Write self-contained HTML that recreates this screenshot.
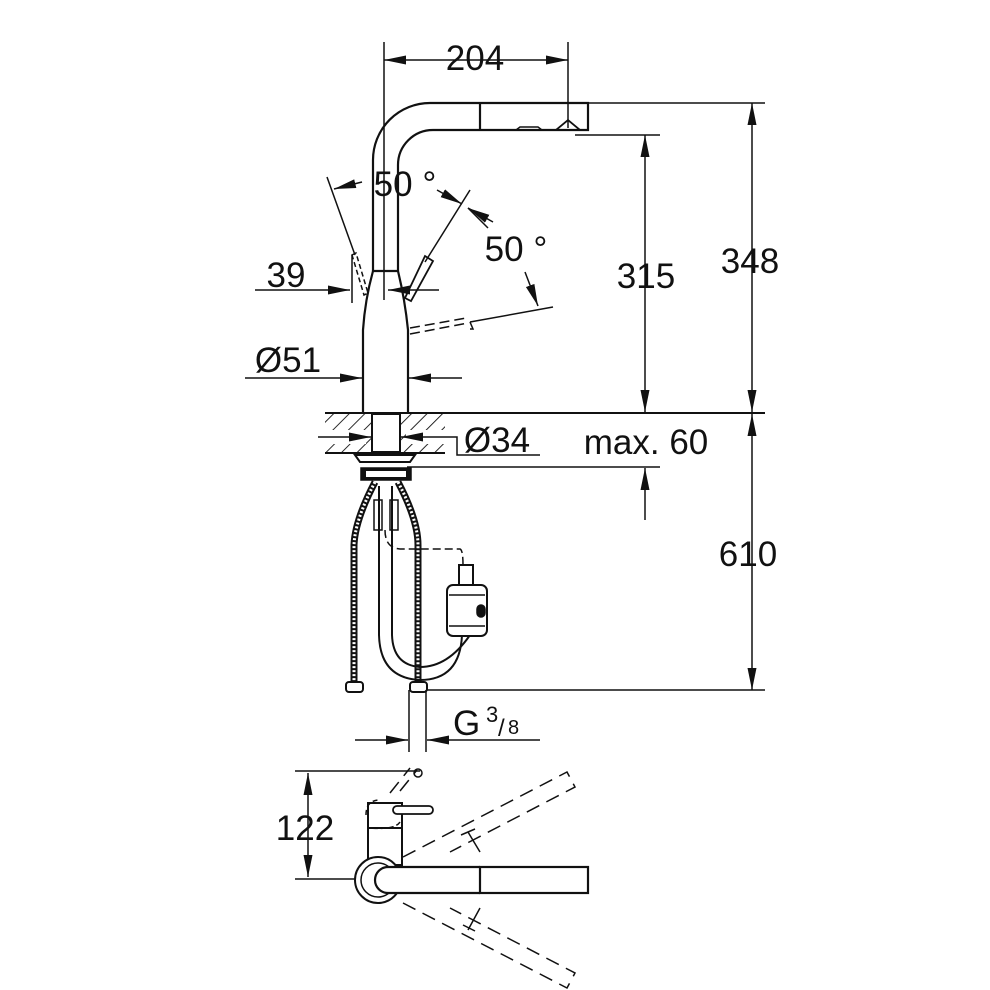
<!DOCTYPE html>
<html><head><style>body{margin:0;background:#fff}svg{display:block}text{font-family:"Liberation Sans",sans-serif;fill:#111}</style></head><body>
<svg width="990" height="990" viewBox="0 0 990 990" xmlns="http://www.w3.org/2000/svg">
<defs>
<marker id="a" viewBox="0 0 10 10" refX="10" refY="5" markerWidth="22" markerHeight="9" markerUnits="userSpaceOnUse" orient="auto-start-reverse" preserveAspectRatio="none"><path d="M0,0L10,5L0,10z" fill="#111"/></marker>
<pattern id="h" width="11" height="11" patternUnits="userSpaceOnUse" patternTransform="rotate(45)"><line x1="0" y1="0" x2="0" y2="11" stroke="#111" stroke-width="1.8"/></pattern>
</defs>
<g stroke="#111" fill="none" stroke-width="1.5">
<line x1="384" y1="42" x2="384" y2="300"/>
<line x1="568" y1="42" x2="568" y2="128"/>
<line x1="384" y1="60" x2="568" y2="60" marker-start="url(#a)" marker-end="url(#a)"/>
<path d="M373,271 L373,160 A57,57 0 0 1 430,103 L588,103 L588,130 L556,130" stroke-width="2.2"/>
<path d="M398,271 L398,165 A35,35 0 0 1 433,130 L556,130" stroke-width="2.2"/>
<line x1="480" y1="103" x2="480" y2="130" stroke-width="2.2"/>
<path d="M516,130 l4,-3 h18 l4,3z" stroke-width="1.5"/>
<path d="M556,130 l12,-10 l12,10z" stroke-width="1.8"/>
<path d="M373,271 L398,271 M373,271 Q365,300 363,330 L363,413 M398,271 Q405,300 408,330 L408,413" stroke-width="2.2"/>
<line x1="327" y1="177" x2="355" y2="255"/>
<path d="M352,255 l4,-2 l12,40 l-4,2z" stroke-dasharray="5,3"/>
<line x1="470" y1="190" x2="425" y2="262"/>
<path d="M425,256 l8,5 l-22,40 l-6,-3z" stroke-width="1.8"/>
<line x1="362" y1="182" x2="334" y2="189" marker-end="url(#a)"/>
<line x1="437" y1="190" x2="462" y2="204" marker-end="url(#a)"/>
<line x1="493" y1="222" x2="468" y2="208" marker-end="url(#a)"/>
<line x1="468" y1="208" x2="488" y2="228"/>
<line x1="525" y1="272" x2="538" y2="306" marker-end="url(#a)"/>
<line x1="470" y1="322" x2="553" y2="307"/>
<path d="M470,322 l3,7 h-3" />
<line x1="410" y1="334" x2="468" y2="323" stroke-dasharray="10,5"/>
<line x1="410" y1="328" x2="466" y2="318" stroke-dasharray="10,5"/>
<line x1="352" y1="255" x2="352" y2="303"/>
<line x1="255" y1="290" x2="350" y2="290" marker-end="url(#a)"/>
<line x1="439" y1="290" x2="388" y2="290" marker-end="url(#a)"/>
<line x1="245" y1="378" x2="362" y2="378" marker-end="url(#a)"/>
<line x1="462" y1="378" x2="409" y2="378" marker-end="url(#a)"/>
<rect x="325" y="413" width="120" height="40" fill="url(#h)" stroke="none"/>
<rect x="372" y="414" width="28" height="38" fill="#fff" stroke-width="2"/>
<rect x="322" y="430" width="44" height="14" fill="#fff" stroke="none"/>
<rect x="406" y="430" width="40" height="14" fill="#fff" stroke="none"/>
<line x1="325" y1="413" x2="765" y2="413" stroke-width="2"/>
<line x1="325" y1="453" x2="445" y2="453" stroke-width="2"/>
<line x1="318" y1="437" x2="371" y2="437" marker-end="url(#a)"/>
<line x1="445" y1="437" x2="401" y2="437" marker-end="url(#a)"/>
<path d="M445,437 H457 V455 H540"/>
<line x1="407" y1="467" x2="660" y2="467"/>
<line x1="575" y1="135" x2="660" y2="135"/>
<line x1="588" y1="103" x2="765" y2="103"/>
<line x1="645" y1="135" x2="645" y2="412" marker-start="url(#a)" marker-end="url(#a)"/>
<line x1="752" y1="103" x2="752" y2="412" marker-start="url(#a)" marker-end="url(#a)"/>
<line x1="752" y1="414" x2="752" y2="690" marker-start="url(#a)" marker-end="url(#a)"/>
<line x1="645" y1="520" x2="645" y2="468" marker-end="url(#a)"/>
<line x1="420" y1="690" x2="765" y2="690"/>
<path d="M355,455 H415 L410,462 H360z" stroke-width="2"/>
<rect x="361" y="468" width="50" height="12" fill="#111"/>
<rect x="366" y="471" width="40" height="6" fill="#fff" stroke="none"/>
<g stroke-width="7" stroke="#111"><path d="M375,482 Q355,520 354,545 L354,684"/><path d="M398,482 Q418,520 418,545 L418,684"/></g>
<g stroke-width="3" stroke="#fff" stroke-dasharray="2,2"><path d="M375,482 Q355,520 354,545 L354,684"/><path d="M398,482 Q418,520 418,545 L418,684"/></g>
<rect x="346" y="682" width="17" height="10" rx="3" fill="#fff" stroke-width="2"/>
<rect x="410" y="682" width="17" height="10" rx="3" fill="#fff" stroke-width="2"/>
<path d="M379,486 V635 Q380,678 420,680 Q460,680 462,635" stroke-width="2"/>
<path d="M392,486 V635 Q393,665 420,667 Q448,667 470,635" stroke-width="2"/>
<rect x="374" y="500" width="8" height="30" stroke-width="1.5"/>
<rect x="390" y="500" width="8" height="30" stroke-width="1.5"/>
<path d="M385,530 Q385,548 400,549 H460 Q463,550 463,565" stroke-dasharray="8,4"/>
<rect x="459" y="565" width="14" height="20" stroke-width="2"/>
<rect x="447" y="585" width="40" height="51" rx="6" fill="#fff" stroke-width="2"/>
<line x1="449" y1="595" x2="485" y2="595"/><line x1="449" y1="626" x2="485" y2="626"/>
<rect x="477" y="605" width="8" height="12" rx="4" fill="#111"/>
<line x1="409" y1="690" x2="409" y2="752"/><line x1="426" y1="690" x2="426" y2="752"/>
<line x1="355" y1="740" x2="408" y2="740" marker-end="url(#a)"/>
<line x1="540" y1="740" x2="427" y2="740" marker-end="url(#a)"/>
<line x1="295" y1="771" x2="420" y2="771"/>
<line x1="295" y1="879" x2="365" y2="879"/>
<line x1="308" y1="773" x2="308" y2="877" marker-start="url(#a)" marker-end="url(#a)"/>
<g stroke-dasharray="14,8">
<path d="M403,857 L567,772 L575,787 L450,852"/>
<path d="M403,903 L567,988 L575,973 L450,908"/>
<path d="M400,791 L417,770 M390,793 L410,768"/>
</g>
<circle cx="418" cy="773" r="4"/>
<line x1="468" y1="832" x2="480" y2="852"/><line x1="461" y1="835" x2="475" y2="829"/>
<line x1="468" y1="930" x2="480" y2="908"/><line x1="463" y1="925" x2="475" y2="931"/>
<rect x="368" y="803" width="34" height="62" fill="#fff" stroke-width="2"/>
<line x1="368" y1="828" x2="402" y2="828" stroke-width="2"/>
<path d="M366,815 Q366,800 380,800 M400,822 Q395,830 370,828" stroke-dasharray="5,3"/>
<rect x="393" y="806" width="40" height="8" rx="4" fill="#fff" stroke-width="1.8"/>
<circle cx="378" cy="880" r="23" fill="#fff" stroke-width="2"/>
<circle cx="378" cy="880" r="17" stroke-width="1.5"/>
<path d="M480,867 H388 A13,13 0 0 0 388,893 H480" fill="#fff" stroke-width="2.2"/>
<rect x="480" y="867" width="108" height="26" stroke-width="2.2"/>
</g>
<g font-size="35">
<text x="475" y="70" text-anchor="middle">204</text>
<text x="405" y="196" text-anchor="middle">50 °</text>
<text x="516" y="261" text-anchor="middle">50 °</text>
<text x="286" y="287" text-anchor="middle">39</text>
<text x="288" y="372" text-anchor="middle">Ø51</text>
<text x="497" y="452" text-anchor="middle">Ø34</text>
<text x="646" y="454" text-anchor="middle">max. 60</text>
<text x="646" y="288" text-anchor="middle">315</text>
<text x="750" y="273" text-anchor="middle">348</text>
<text x="748" y="566" text-anchor="middle">610</text>
<text x="453" y="735">G</text>
<text x="486" y="722" font-size="22">3</text>
<text x="498" y="736" font-size="24">/</text>
<text x="508" y="734" font-size="20">8</text>
<text x="305" y="840" text-anchor="middle">122</text>
</g>
</svg>
</body></html>
